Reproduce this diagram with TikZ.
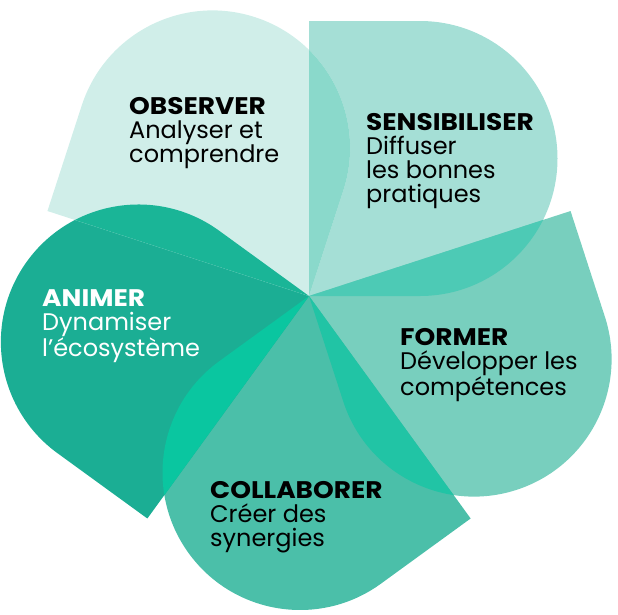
\documentclass[tikz,border=0pt]{standalone}
\usepackage{fontspec}
\setmainfont{Poppins}
\usepackage{tikz}

\definecolor{observercol}{HTML}{D0EEE9}
\definecolor{sensibilisercol}{HTML}{A5DFD6}
\definecolor{formercol}{HTML}{78CFBE}
\definecolor{collaborercol}{HTML}{4BBFA9}
\definecolor{animercol}{HTML}{1BAE94}
\definecolor{obssenscol}{HTML}{8AD9CB}
\definecolor{sensformcol}{HTML}{4DCAB5}
\definecolor{formcollcol}{HTML}{21C4A5}
\definecolor{collanimcol}{HTML}{0AC6A0}
\definecolor{animobscol}{HTML}{1AB597}

\newfontface\headfont[FakeStretch=1.1]{Poppins Bold}

\tikzset{
	petaltext/.style={anchor=north west, align=left, inner sep=0pt, font=\fontsize{24}{24}\selectfont},
}
\def\petalpath{(0,0) -- (0,275) -- (111,275) arc (90:-90:137.5) -- cycle}

\begin{document}
\begin{tikzpicture}[x=1pt,y=1pt]
	\useasboundingbox (-309,-318) rectangle (309,296);
	% Petals %
	\foreach \ang/\col in {0/sensibilisercol, -72/formercol, -144/collaborercol, -216/animercol, -288/observercol}
		{\fill [\col, rotate=\ang] \petalpath;}
	% Overlaps %
	\foreach \ang/\col in {0/sensformcol, -72/formcollcol, -144/collanimcol, -216/animobscol, -288/obssenscol}
		{\begin{scope}
			\clip [rotate=\ang] \petalpath;
			\fill [\col, rotate=\ang-72] \petalpath;
		\end{scope}}
	% Labels %
	\node (observer) [petaltext] at (-180,199) {{\headfont OBSERVER}\\Analyser et\\comprendre};
	\node (sensibiliser) [petaltext] at (57,183) {{\headfont SENSIBILISER}\\Diffuser\\les bonnes\\pratiques};
	\node (former) [petaltext] at (91,-32) {{\headfont FORMER}\\Développer les\\compétences};
	\node (collaborer) [petaltext] at (-99,-185) {{\headfont COLLABORER}\\Créer des\\synergies};
	\node (animer) [petaltext, white] at (-267,7) {{\headfont ANIMER}\\Dynamiser\\l’écosystème};
\end{tikzpicture}
\end{document}
